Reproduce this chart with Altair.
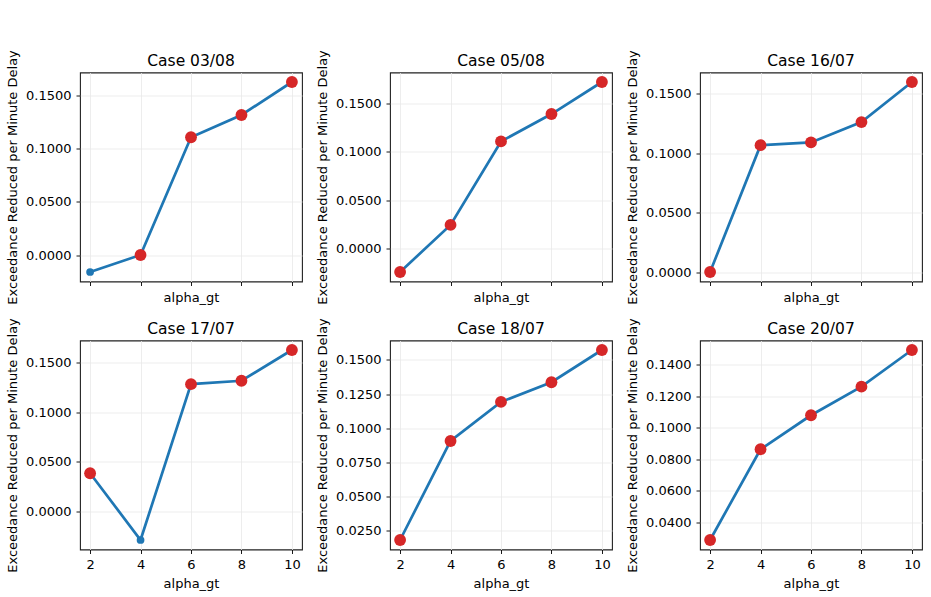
import altair as alt
import pandas as pd

FONT = "DejaVu Sans"

cases = ["03/08", "05/08", "16/07", "17/07", "18/07", "20/07"]
alpha_gt = [2, 4, 6, 8, 10]

v_0308 = [-0.0160, 0.0000, 0.1110, 0.1320, 0.1631]
v_0508 = [-0.0245, 0.0243, 0.1108, 0.1392, 0.1724]
v_1607 = [0.0000, 0.1067, 0.1090, 0.1261, 0.1598]
v_1707 = [0.0383, -0.0290, 0.1281, 0.1315, 0.1625]
v_1807 = [0.0182, 0.0907, 0.1193, 0.1337, 0.1573]
v_2007 = [0.0287, 0.0864, 0.1080, 0.1262, 0.1495]

hl_0308 = [False, True, True, True, True]
hl_0508 = [True, True, True, True, True]
hl_1607 = [True, True, True, True, True]
hl_1707 = [True, False, True, True, True]
hl_1807 = [True, True, True, True, True]
hl_2007 = [True, True, True, True, True]

ticks_std = [0.0, 0.05, 0.10, 0.15]
ticks_1807 = [0.025, 0.05, 0.075, 0.10, 0.125, 0.15]
ticks_2007 = [0.04, 0.06, 0.08, 0.10, 0.12, 0.14]

values = [v_0308, v_0508, v_1607, v_1707, v_1807, v_2007]
highlights = [hl_0308, hl_0508, hl_1607, hl_1707, hl_1807, hl_2007]
ticks = [ticks_std, ticks_std, ticks_std, ticks_std, ticks_1807, ticks_2007]

BLUE = "#1f77b4"
RED = "#d62728"
W, H = 222, 209


def margin_domain(vals):
    lo, hi = min(vals), max(vals)
    m = 0.05 * (hi - lo)
    return [lo - m, hi + m]


def panel(case, vals, hl, tvals, bottom):
    df = pd.DataFrame({"alpha_gt": alpha_gt, "value": vals, "hl": hl})
    x = alt.X(
        "alpha_gt:Q",
        scale=alt.Scale(domain=margin_domain(alpha_gt), nice=False, zero=False),
        axis=alt.Axis(values=alpha_gt, labels=bottom, title="alpha_gt", format="d"),
    )
    y = alt.Y(
        "value:Q",
        scale=alt.Scale(domain=margin_domain(vals), nice=False, zero=False),
        axis=alt.Axis(values=tvals, format=".4f",
                      title="Exceedance Reduced per Minute Delay"),
    )
    base = alt.Chart(df)
    line = base.mark_line(color=BLUE, strokeWidth=2.7).encode(x=x, y=y)
    dots = base.mark_circle(color=BLUE, size=60, opacity=1).encode(x=x, y=y)
    red = base.transform_filter("datum.hl").mark_circle(
        color=RED, size=140, opacity=1).encode(x=x, y=y)
    return alt.layer(line, dots, red).properties(
        width=W, height=H,
        title=alt.TitleParams(f"Case {case}", fontSize=15.5, font=FONT,
                              fontWeight="normal", color="#000", offset=-20),
    )


panels = [panel(cases[i], values[i], highlights[i], ticks[i], i >= 3) for i in range(6)]

chart = alt.concat(
    *panels, columns=3, spacing=alt.RowColnumber(column=88, row=59), bounds="flush"
).properties(
    padding={"left": 5, "top": 48.5, "right": 5, "bottom": 5},
    background="white",
).configure_axis(
    grid=True,
    gridColor="#e8e8e8",
    gridWidth=0.8,
    domain=False,
    tickColor="#000",
    tickSize=4,
    tickWidth=0.9,
    labelFont=FONT,
    titleFont=FONT,
    labelFontSize=13,
    titleFontSize=13,
    titleFontWeight="normal",
    labelColor="#000",
    titleColor="#000",
    labelPadding=5,
    titlePadding=6,
).configure_view(
    stroke="#222",
    strokeWidth=1.1,
)

chart.save("out.html", embed_options={"renderer": "svg", "actions": False})
